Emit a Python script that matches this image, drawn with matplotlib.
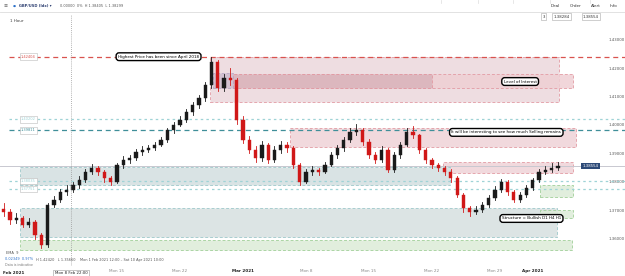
import numpy as np
import matplotlib.pyplot as plt
from matplotlib.patches import Rectangle

# velas de medio dia, x = dias habiles desde el lunes 1 feb 2021
dias = np.arange(1.0, 45.5, 0.5)
apertura0 = 1.3705
cierres = [1.3694, 1.3666, 1.3673, 1.3648, 1.3659, 1.3613, 1.3578, 1.3718, 1.3736, 1.3764,
           1.3771, 1.3789, 1.3806, 1.3835, 1.3849, 1.3835, 1.3813, 1.3799, 1.3859, 1.3877,
           1.3884, 1.3905, 1.3912, 1.3919, 1.3930, 1.3947, 1.3982, 1.4000, 1.4018, 1.4046,
           1.4070, 1.4095, 1.4141, 1.4222, 1.4130, 1.4165, 1.4158, 1.4018, 1.3947, 1.3912,
           1.3884, 1.3930, 1.3877, 1.3912, 1.3930, 1.3919, 1.3859, 1.3799, 1.3835, 1.3842,
           1.3835, 1.3859, 1.3894, 1.3919, 1.3947, 1.3975, 1.3982, 1.3940, 1.3894, 1.3877,
           1.3912, 1.3842, 1.3894, 1.3930, 1.3975, 1.3965, 1.3912, 1.3877, 1.3859, 1.3849,
           1.3835, 1.3813, 1.3754, 1.3708, 1.3694, 1.3701, 1.3718, 1.3743, 1.3771, 1.3799,
           1.3764, 1.3736, 1.3754, 1.3778, 1.3806, 1.3835, 1.3842, 1.3849, 1.3855]
maximos = [1.3725, 1.3705, 1.3690, 1.3680, 1.3672, 1.3665, 1.3620, 1.3725, 1.3750, 1.3775,
           1.3790, 1.3800, 1.3820, 1.3845, 1.3862, 1.3855, 1.3842, 1.3820, 1.3868, 1.3890,
           1.3895, 1.3915, 1.3925, 1.3930, 1.3940, 1.3958, 1.3990, 1.4010, 1.4030, 1.4055,
           1.4082, 1.4105, 1.4150, 1.4240, 1.4230, 1.4180, 1.4200, 1.4165, 1.4030, 1.3960,
           1.3925, 1.3945, 1.3935, 1.3925, 1.3945, 1.3940, 1.3925, 1.3865, 1.3845, 1.3855,
           1.3850, 1.3870, 1.3905, 1.3930, 1.3958, 1.3990, 1.4005, 1.3990, 1.3950, 1.3905,
           1.3925, 1.3920, 1.3905, 1.3940, 1.3990, 1.3995, 1.3970, 1.3920, 1.3885, 1.3865,
           1.3855, 1.3845, 1.3820, 1.3760, 1.3715, 1.3715, 1.3730, 1.3755, 1.3785, 1.3810,
           1.3805, 1.3770, 1.3765, 1.3790, 1.3815, 1.3845, 1.3855, 1.3868, 1.3870]
minimos = [1.3680, 1.3650, 1.3655, 1.3640, 1.3642, 1.3600, 1.3566, 1.3570, 1.3710, 1.3728,
           1.3755, 1.3765, 1.3780, 1.3800, 1.3828, 1.3825, 1.3800, 1.3790, 1.3795, 1.3850,
           1.3868, 1.3878, 1.3895, 1.3905, 1.3912, 1.3925, 1.3940, 1.3972, 1.3995, 1.4010,
           1.4035, 1.4060, 1.4085, 1.4130, 1.4120, 1.4120, 1.4140, 1.4005, 1.3935, 1.3900,
           1.3870, 1.3875, 1.3865, 1.3870, 1.3900, 1.3905, 1.3850, 1.3790, 1.3795, 1.3825,
           1.3825, 1.3830, 1.3855, 1.3885, 1.3910, 1.3940, 1.3965, 1.3930, 1.3885, 1.3865,
           1.3870, 1.3835, 1.3835, 1.3885, 1.3925, 1.3955, 1.3900, 1.3865, 1.3850, 1.3838,
           1.3825, 1.3800, 1.3745, 1.3695, 1.3680, 1.3685, 1.3695, 1.3710, 1.3735, 1.3765,
           1.3755, 1.3728, 1.3730, 1.3748, 1.3770, 1.3800, 1.3828, 1.3835, 1.3840]
precio_actual = 1.38554

# zonas (rectangulos): inicio, fin (dias), precio bajo, precio alto
zona_ini = [17.4, 19.2, 19.2, 17.6, 23.7, 35.9, 2.3, 2.3, 2.3, 43.6, 43.6]
zona_fin = [45.1, 46.2, 35.0, 19.2, 46.4, 46.2, 36.4, 44.9, 46.1, 46.2, 46.2]
zona_bajo = [1.4081, 1.4130, 1.4130, 1.4130, 1.3923, 1.3831, 1.3789, 1.3606, 1.3560, 1.3746, 1.3673]
zona_alto = [1.4239, 1.4180, 1.4180, 1.4183, 1.3989, 1.3870, 1.3852, 1.3708, 1.3595, 1.3789, 1.3701]
zona_relleno = ['#ecd8dc', '#efcfd4', '#d9b3bb', '#cdbccd', '#efd3d7', '#efd3d7',
                '#d3dfe0', '#d6e0e0', '#dcebd8', '#dcebd8', '#dcebd8']
zona_borde = ['#e29aa3', '#e29aa3', '#e29aa3', '#b9a6c4', '#e29aa3', '#e29aa3',
              '#9cc7c9', '#9cc7c9', '#9fcf97', '#9fcf97', '#9fcf97']

# niveles horizontales
niveles = [1.42404, 1.40202, 1.39811, 1.38035, 1.37751]
niveles_txt = ['1.42404', '1.40202', '1.39811', '1.38035', '1.37751']
niveles_color = ['#d9534f', '#9fd3d6', '#3f8f99', '#9fd3d6', '#9fd3d6']
niveles_estilo = [(0, (4, 3)), (0, (2, 2.5)), (0, (4, 3)), (0, (2, 2.5)), (0, (2, 2.5))]

precios_eje = [1.36, 1.37, 1.38, 1.39, 1.40, 1.41, 1.42, 1.43]
fechas_pos = [10, 15, 20, 25, 30, 35, 40, 43]
fechas_txt = ['Mon 15', 'Mon 22', 'Mar 2021', 'Mon 8', 'Mon 15', 'Mon 22', 'Mon 29', 'Apr 2021']

notas = ['Highest Price has been since April 2018', 'Level of Interest',
         'It will be interesting to see how much Selling remains',
         'Structure = Bullish D1 H4 H1']
notas_x = [13.3, 42.0, 40.9, 42.9]
notas_y = [1.42404, 1.4153, 1.3974, 1.3671]

W, H = 625, 276
fig = plt.figure(figsize=(W / 100, H / 100), dpi=100)
fig.patch.set_facecolor('white')
ax = fig.add_axes([0, 10 / H, 565 / W, 252 / H])
ax.set_xlim(0.714, 45.56)
ax.set_ylim(1.35037, 1.43907)
for s in ax.spines.values():
    s.set_visible(False)
ax.set_facecolor('white')
x_der = 50.3  # borde derecho de la figura en dias

# zonas
for i in range(len(zona_ini)):
    ax.add_patch(Rectangle((zona_ini[i], zona_bajo[i]), zona_fin[i] - zona_ini[i],
                           zona_alto[i] - zona_bajo[i], facecolor=zona_relleno[i],
                           edgecolor=zona_borde[i], lw=0.7, ls=(0, (3, 2)),
                           alpha=0.85, clip_on=False, zorder=1))

# niveles
for i, p in enumerate(niveles):
    ax.plot([1.45, x_der], [p, p], color=niveles_color[i], lw=0.9,
            ls=niveles_estilo[i], clip_on=False, zorder=2)
    ax.text(0.05, p, niveles_txt[i], transform=ax.get_yaxis_transform(),
            fontsize=2.6, color=niveles_color[i], va='center', ha='center',
            bbox=dict(boxstyle='square,pad=0.35', fc='white', ec='#bbbbbb', lw=0.4), zorder=5)

# precio actual
ax.plot([0.714, x_der], [precio_actual] * 2, color='#c8c8d0', lw=0.7, clip_on=False, zorder=2)
ax.text(46.95, precio_actual, '1.38554', fontsize=2.8, color='white', va='center',
        ha='left', bbox=dict(boxstyle='square,pad=0.3', fc='#2d4a78', ec='none'), zorder=6)

# velas
aperturas = [apertura0] + cierres[:-1]
for d, o, c, hi, lo in zip(dias, aperturas, cierres, maximos, minimos):
    col = '#1a1a1a' if c >= o else '#d01818'
    ax.plot([d, d], [lo, hi], color=col, lw=0.6, zorder=3)
    ax.add_patch(Rectangle((d - 0.13, min(o, c)), 0.26, max(abs(c - o), 0.0002),
                           facecolor=col, edgecolor=col, lw=0.3, zorder=3))

# notas
for s, x, y in zip(notas, notas_x, notas_y):
    ax.text(x, y, s, fontsize=3.0, ha='center', va='center', color='black', zorder=7,
            bbox=dict(boxstyle='round,pad=0.45,rounding_size=0.7', fc='white', ec='black', lw=1.0))

# eje de precios a la derecha
ax.yaxis.tick_right()
ax.set_yticks(precios_eje)
ax.set_yticklabels(['%.5f' % p for p in precios_eje])
ax.tick_params(axis='y', length=0, pad=31, labelsize=2.8, labelcolor='#555555')

# eje de fechas
ax.set_xticks(fechas_pos)
ax.set_xticklabels(fechas_txt)
ax.tick_params(axis='x', length=0, pad=2.5, labelsize=3.0, labelcolor='#888888')
for t in ax.get_xticklabels():
    if '2021' in t.get_text():
        t.set_color('#222222')
        t.set_fontweight('bold')
ax.text(0.95, -0.02, 'Feb 2021', transform=ax.get_xaxis_transform(), fontsize=3.0,
        fontweight='bold', color='#222222', va='top', ha='left')
ax.text(6.35, -0.02, 'Mon 8 Feb 22:00', transform=ax.get_xaxis_transform(), fontsize=2.8,
        color='#222222', va='top', ha='center',
        bbox=dict(boxstyle='square,pad=0.3', fc='white', ec='#999999', lw=0.4))

# linea vertical del cursor
ax.axvline(6.35, color='#999999', lw=0.6, ls=(0, (1, 1.5)), zorder=4)

# cabecera
fig.add_artist(plt.Line2D([0, 1], [1 - 12 / H, 1 - 12 / H], color='#dddddd', lw=0.6))
for xp in [441, 478, 513, 550, 590]:
    fig.add_artist(plt.Line2D([xp / W, xp / W], [1 - 3 / H, 1], color='#dddddd', lw=0.5))
fig.text(4 / W, 1 - 6 / H, '\u2261', fontsize=3.5, color='#555555', va='center')
fig.text(13 / W, 1 - 6 / H, '\u25cf', fontsize=2.5, color='#2a6fc9', va='center')
fig.text(19 / W, 1 - 6 / H, 'GBP/USD (Idx) \u25be', fontsize=2.6, color='#2c3e70',
         fontweight='bold', va='center')
fig.text(60 / W, 1 - 6 / H, '0.00000  0%  H 1.38405  L 1.38299', fontsize=2.5,
         color='#555555', va='center')
for s, xp in zip(['Deal', 'Order', 'Alert', 'Info'], [555, 576, 596, 614]):
    fig.text(xp / W, 1 - 6 / H, s, fontsize=3.0, color='#333333', va='center', ha='center')
for s, x0, x1 in [('3', 530, 548), ('1.38284', 550, 573), ('1.38554', 577, 602)]:
    fig.text((x1 - 3) / W, 1 - 16.5 / H, s, fontsize=2.8, color='#333333', va='center', ha='right',
             bbox=dict(boxstyle='square,pad=0.35', fc='white', ec='#aaaaaa', lw=0.4))
fig.text(10 / W, 1 - 21 / H, '1 Hour', fontsize=3.0, color='#444444', va='center')

# textos inferiores
fig.text(6 / W, 1 - 253 / H, 'EMA  9', fontsize=2.6, color='#555555', va='center')
fig.text(5 / W, 1 - 259.5 / H, '0.02349  0.97%', fontsize=2.5, color='#2a6fc9', va='center')
fig.text(36 / W, 1 - 259.5 / H,
         'H 1.42420   L 1.35660    Mon 1 Feb 2021 12:00 \u2013 Sat 10 Apr 2021 10:00',
         fontsize=2.5, color='#555555', va='center')
fig.text(5 / W, 1 - 265 / H, 'Data is indicative', fontsize=2.3, color='#777777', va='center')

fig.savefig('out.png', dpi=100)
